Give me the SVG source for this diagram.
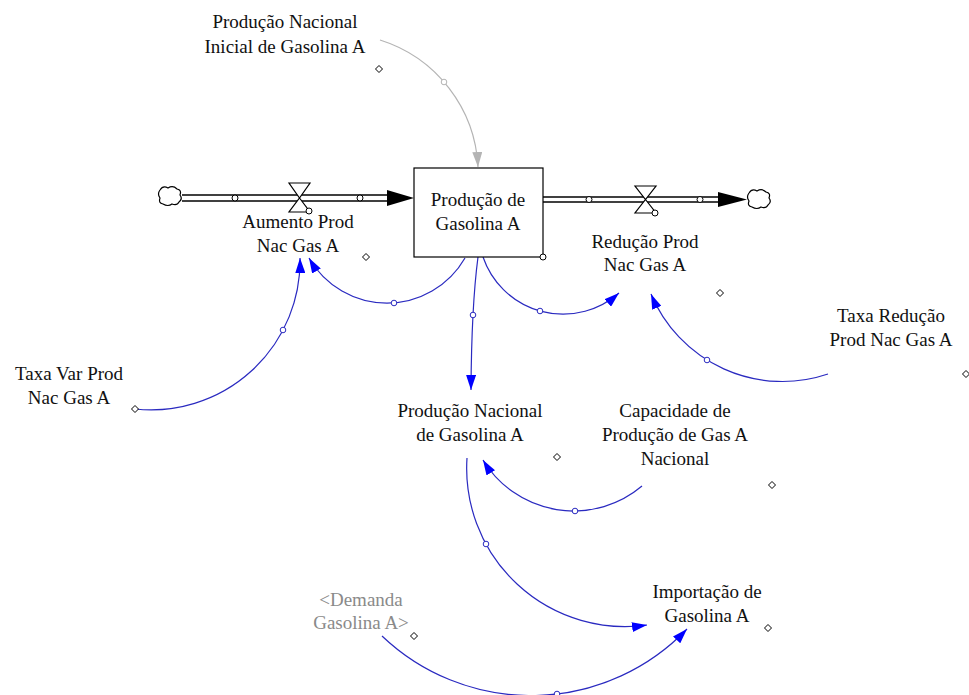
<svg xmlns="http://www.w3.org/2000/svg" width="969" height="695" viewBox="0 0 969 695">
  <style>
    text { font-family: "Liberation Serif", "Times New Roman", serif; font-size: 19px; fill: #111111; text-anchor: middle; }
    text.shadow { fill: #8a8a8a; }
    .link { fill: none; stroke: #2a2ac0; stroke-width: 1.2; }
    .link.gray { stroke: #b4b4b4; }
    .handle { fill: #ffffff; stroke: #2a2ac0; stroke-width: 1; }
    .handle.gray { stroke: #b4b4b4; }
    .pipe { fill: none; stroke: #000000; stroke-width: 1.3; }
    .pipe-dot { fill: #ffffff; stroke: #000000; stroke-width: 1; }
    .valve { fill: #ffffff; stroke: #000000; stroke-width: 1.2; stroke-linejoin: miter; }
    .cloud { fill: #ffffff; stroke: #000000; stroke-width: 1.2; }
    .diamond { fill: #ffffff; stroke: #000000; stroke-width: 1; }
    .stock { fill: #ffffff; stroke: #000000; stroke-width: 1.2; }
  </style>
  <defs>
    <marker id="arrow-blue" viewBox="0 0 15 10" refX="15" refY="5" markerWidth="15" markerHeight="10" markerUnits="userSpaceOnUse" orient="auto">
      <path d="M0,0 L15,5 L0,10 Z" fill="#0000ff"/>
    </marker>
    <marker id="arrow-gray" viewBox="0 0 15 10" refX="15" refY="5" markerWidth="15" markerHeight="10" markerUnits="userSpaceOnUse" orient="auto">
      <path d="M0,0 L15,5 L0,10 Z" fill="#b4b4b4"/>
    </marker>
    <path id="cloud-shape" d="M160,190 q3,-5 8,-2 q5,-3 9,1 q5,1 3,6 q3,4 -1,7 q-2,4 -7,2 q-4,3 -9,0 q-5,-1 -3,-6 q-3,-4 0,-8 z"/>
    <path id="diamond-shape" d="M0,-3.5 L3.5,0 L0,3.5 L-3.5,0 Z"/>
  </defs>

  <!-- information links -->
  <g id="connectors">
    <path class="link gray" d="M380,40 A140,140 0 0 1 478,167" marker-end="url(#arrow-gray)"/>
    <circle class="handle gray" cx="444" cy="82" r="2.8"/>

    <path class="link" d="M135,409 A149,149 0 0 0 300,258" marker-end="url(#arrow-blue)"/>
    <circle class="handle" cx="283" cy="330" r="2.8"/>

    <path class="link" d="M465,258 A90,90 0 0 1 309,258" marker-end="url(#arrow-blue)"/>
    <circle class="handle" cx="394" cy="303" r="2.8"/>

    <path class="link" d="M478,257 Q471.5,306.5 471,390" marker-end="url(#arrow-blue)"/>
    <circle class="handle" cx="473" cy="315" r="2.8"/>

    <path class="link" d="M483,257 A84.6,84.6 0 0 0 619,293" marker-end="url(#arrow-blue)"/>
    <circle class="handle" cx="540" cy="311" r="2.8"/>

    <path class="link" d="M828,374 A142.4,142.4 0 0 1 651,294" marker-end="url(#arrow-blue)"/>
    <circle class="handle" cx="707" cy="360" r="2.8"/>

    <path class="link" d="M642,486 A106,106 0 0 1 483,460" marker-end="url(#arrow-blue)"/>
    <circle class="handle" cx="575" cy="511" r="2.8"/>

    <path class="link" d="M467,458 A158.3,158.3 0 0 0 647,625" marker-end="url(#arrow-blue)"/>
    <circle class="handle" cx="486" cy="544" r="2.8"/>

    <path class="link" d="M382,636 A216,216 0 0 0 687,629" marker-end="url(#arrow-blue)"/>
    <circle class="handle" cx="557" cy="694" r="2.8"/>
  </g>

  <!-- inflow: source cloud, pipe, valve -->
  <g id="aumento-prod-nac-gas-a">
    <use href="#cloud-shape" class="cloud"/>
    <line class="pipe" x1="182" y1="195" x2="390" y2="195"/>
    <line class="pipe" x1="182" y1="201" x2="390" y2="201"/>
    <path d="M387,190 L414,198 L387,206 Z" fill="#000000"/>
    <circle class="pipe-dot" cx="235" cy="198" r="3"/>
    <circle class="pipe-dot" cx="360" cy="198" r="3"/>
    <path class="valve" d="M289,183 L310,183 L299.5,198 Z M299.5,198 L310,212 L289,212 Z"/>
    <circle class="pipe-dot" cx="309" cy="211" r="3"/>
    <text x="298" y="228">Aumento Prod</text>
    <text x="298" y="252">Nac Gas A</text>
    <use href="#diamond-shape" class="diamond" x="366" y="257"/>
  </g>

  <!-- stock -->
  <g id="producao-de-gasolina-a">
    <rect class="stock" x="414" y="168" width="129" height="89"/>
    <text x="478" y="206">Produção de</text>
    <text x="478" y="230">Gasolina A</text>
    <circle class="pipe-dot" cx="543" cy="257" r="3"/>
  </g>

  <!-- outflow: pipe, valve, sink cloud -->
  <g id="reducao-prod-nac-gas-a">
    <line class="pipe" x1="543" y1="197" x2="721" y2="197"/>
    <line class="pipe" x1="543" y1="202" x2="721" y2="202"/>
    <path d="M718,192 L747,199.5 L718,207 Z" fill="#000000"/>
    <circle class="pipe-dot" cx="589" cy="199.5" r="3"/>
    <circle class="pipe-dot" cx="700" cy="199.5" r="3"/>
    <path class="valve" d="M635,186 L656,186 L645.5,199.5 Z M645.5,199.5 L656,213 L635,213 Z"/>
    <circle class="pipe-dot" cx="655" cy="213" r="3"/>
    <use href="#cloud-shape" class="cloud" transform="translate(589,3)"/>
    <text x="645" y="248">Redução Prod</text>
    <text x="645" y="271">Nac Gas A</text>
    <use href="#diamond-shape" class="diamond" x="720" y="293"/>
  </g>

  <g id="producao-nacional-inicial">
    <text x="285" y="28">Produção Nacional</text>
    <text x="285" y="53">Inicial de Gasolina A</text>
    <use href="#diamond-shape" class="diamond" x="379" y="69"/>
  </g>

  <g id="taxa-var-prod">
    <text x="69" y="380">Taxa Var Prod</text>
    <text x="69" y="404">Nac Gas A</text>
    <use href="#diamond-shape" class="diamond" x="135" y="409"/>
  </g>

  <g id="taxa-reducao-prod">
    <text x="891" y="322">Taxa Redução</text>
    <text x="891" y="346">Prod Nac Gas A</text>
    <use href="#diamond-shape" class="diamond" x="966" y="374"/>
  </g>

  <g id="producao-nacional-de-gasolina-a">
    <text x="470" y="417">Produção Nacional</text>
    <text x="470" y="441">de Gasolina A</text>
    <use href="#diamond-shape" class="diamond" x="557" y="457"/>
  </g>

  <g id="capacidade-de-producao">
    <text x="675" y="417">Capacidade de</text>
    <text x="675" y="441">Produção de Gas A</text>
    <text x="675" y="465">Nacional</text>
    <use href="#diamond-shape" class="diamond" x="772" y="485"/>
  </g>

  <g id="importacao-de-gasolina-a">
    <text x="707" y="598">Importação de</text>
    <text x="707" y="622">Gasolina A</text>
    <use href="#diamond-shape" class="diamond" x="768" y="628"/>
  </g>

  <g id="demanda-gasolina-a">
    <text class="shadow" x="361" y="606">&lt;Demanda</text>
    <text class="shadow" x="361" y="629">Gasolina A&gt;</text>
    <use href="#diamond-shape" class="diamond" x="414" y="636"/>
  </g>
</svg>
